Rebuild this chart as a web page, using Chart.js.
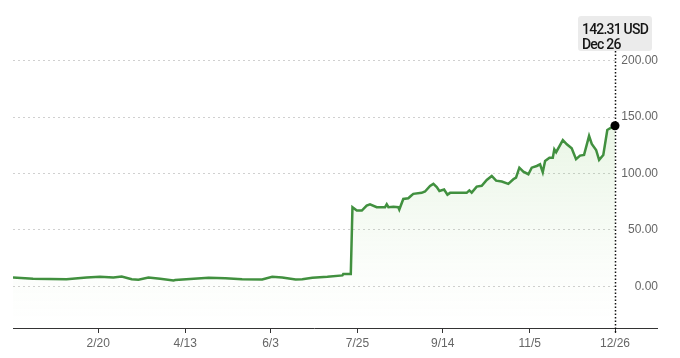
<!DOCTYPE html>
<html>
<head>
<meta charset="utf-8">
<script src="https://cdn.jsdelivr.net/npm/chart.js@4/dist/chart.umd.min.js"></script>
<style>
html,body{margin:0;padding:0;background:#fff;}
#wrap{width:680px;height:358px;position:relative;}
</style>
</head>
<body>
<div id="wrap"><canvas id="c" width="680" height="358"></canvas></div>
<script>
// Day of year (0 = Jan 1) and closing price in USD
const days = [0,12,32,44,52,60,65,71,75,81,88,96,97,117,127,137,149,155,161,169,173,179,188,197,197.5,202,
  203,205.6,208.6,211.5,213.5,217.5,222.5,223.5,224.5,227.5,230.4,231,233.4,236.4,237.9,239.4,244.4,246.4,249.4,251.4,253.4,255,257.8,259.8,261.4,271.3,272.9,274.3,
  277.3,280.3,283.3,286.3,288.9,292.3,296.2,299.2,300.8,302.8,305.2,308.2,310.2,313.2,315.2,316.8,318.2,320.8,322.8,323.7,324.8,328.8,331.2,334.1,336.7,339.1,341.5,344.5,346.1,348.7,350.5,353,355.4,357,360];
const prices = [7.8,6.6,6.3,7.8,8.4,7.8,8.7,6.3,5.7,7.8,6.6,5.1,5.5,7.5,7.2,6.3,6.0,8.4,7.8,6.0,6.3,7.5,8.4,9.6,10.8,10.8,
  70.1,67.1,67.1,71.5,72.7,70.1,70.1,72.7,70.1,70.5,70.1,68,77.4,78,80,81.9,82.8,84,89,90.8,88,84.5,85.8,81.2,82.8,82.8,85,83,
  88.3,89,94.2,97.8,93.6,92.8,90.7,94.8,96.3,105.1,101.6,99.3,105.1,106.6,108.1,101,111,114,114,121.4,118.8,129.6,125.8,122.3,112.6,115.8,116.4,133.2,126.1,120.8,112,116.4,138.5,140,142.31];
const xTickDays = [51,103,154,206,257,309,360];
const xTickLabels = ['2/20','4/13','6/3','7/25','9/14','11/5','12/26'];
const yTicks = [0,50,100,150,200];
const lastLabelDate = 'Dec 26';
const currency = 'USD';

const FONT = 'Liberation Sans, Arial, sans-serif';

const points = days.map((d,i)=>({x:d,y:prices[i]}));

const overlay = {
  id:'overlay',
  afterDraw(chart){
    const ctx = chart.ctx;
    const xs = chart.scales.x, ys = chart.scales.y;
    const ca = chart.chartArea;
    ctx.save();
    // extend x-axis baseline under the y labels
    ctx.strokeStyle = '#333';
    ctx.lineWidth = 1;
    ctx.beginPath();
    ctx.moveTo(ca.right, ca.bottom + 0.5);
    ctx.lineTo(ys.right, ca.bottom + 0.5);
    ctx.stroke();
    const n = days.length - 1;
    const px = xs.getPixelForValue(days[n]);
    const py = ys.getPixelForValue(prices[n]);
    ctx.font = '500 14px Roboto, ' + FONT;
    try { ctx.letterSpacing = '-0.8px'; } catch(e) {}
    const l1 = prices[n].toFixed(2) + ' ' + currency;
    const l2 = lastLabelDate;
    const w = Math.max(ctx.measureText(l1).width, ctx.measureText(l2).width) + 8;
    const bx = px - w/2, by = 16, bh = 35;
    // dotted vertical line
    ctx.strokeStyle = '#111';
    ctx.lineWidth = 1.5;
    ctx.setLineDash([1.5,2]);
    ctx.beginPath();
    ctx.moveTo(Math.round(px)+0.5, by + bh);
    ctx.lineTo(Math.round(px)+0.5, ca.bottom + 5);
    ctx.stroke();
    ctx.setLineDash([]);
    // tooltip box
    ctx.fillStyle = '#ebebeb';
    ctx.beginPath();
    ctx.roundRect(bx, by, w, bh, 3);
    ctx.fill();
    ctx.fillStyle = '#151515';
    ctx.textAlign = 'left';
    ctx.textBaseline = 'alphabetic';
    ctx.fillText(l1, bx + 4, by + 18);
    ctx.fillText(l2, bx + 4, by + 33);
    // end point marker
    ctx.fillStyle = '#000';
    ctx.beginPath();
    ctx.arc(px, py, 4.5, 0, Math.PI*2);
    ctx.fill();
    ctx.restore();
  }
};

new Chart(document.getElementById('c'), {
  type:'line',
  data:{
    datasets:[{
      data: points,
      borderColor:'#41903f',
      borderWidth:2.5,
      pointRadius:0,
      tension:0,
      fill:'start',
      backgroundColor(ctx){
        const ca = ctx.chart.chartArea;
        if(!ca) return 'rgba(120,190,100,0.08)';
        const g = ctx.chart.ctx.createLinearGradient(0, ca.top + 100, 0, ca.bottom);
        g.addColorStop(0,'rgba(120,195,95,0.16)');
        g.addColorStop(0.7,'rgba(120,195,95,0.03)');
        g.addColorStop(1,'rgba(120,195,95,0)');
        return g;
      }
    }]
  },
  options:{
    responsive:false,
    animation:false,
    layout:{padding:{left:13,right:22,top:20,bottom:0}},
    plugins:{legend:{display:false},tooltip:{enabled:false}},
    scales:{
      x:{
        type:'linear',
        position:'bottom',
        min:0,max:360,
        afterBuildTicks(s){ s.ticks = xTickDays.map(v=>({value:v})); },
        afterFit(s){ s.height = 30; },
        ticks:{
          callback(v){ const i = xTickDays.indexOf(v); return i>=0 ? xTickLabels[i] : ''; },
          color:'#666', font:{family:FONT,size:12}, padding:3, maxRotation:0, autoSkip:false
        },
        grid:{drawOnChartArea:false, drawTicks:true, tickLength:5, color:'#333', lineWidth:1},
        border:{display:true, color:'#333', width:1}
      },
      y:{
        type:'linear',
        position:'right',
        min:-37,max:236,
        afterBuildTicks(s){ s.ticks = yTicks.map(v=>({value:v})); },
        afterFit(s){ s.width = 43; },
        ticks:{
          callback(v){ return v.toFixed(2); },
          color:'#666', font:{family:FONT,size:12}, padding:6, crossAlign:'far'
        },
        grid:{drawTicks:false, color:'#d0d0d0', lineWidth:1},
        border:{display:false, dash:[2,3]}
      }
    }
  },
  plugins:[overlay]
});
</script>
</body>
</html>
